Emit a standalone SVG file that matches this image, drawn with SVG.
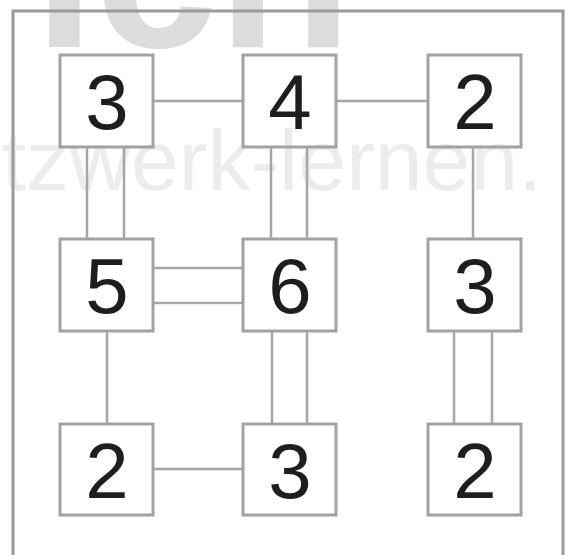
<svg xmlns="http://www.w3.org/2000/svg" width="566" height="555" viewBox="0 0 566 555">
<style>
.wm{font-family:"Liberation Sans",Arial,sans-serif}
.frame{fill:none;stroke:#9a9a9a;stroke-width:3}
.box{fill:none;stroke:#a2a2a2;stroke-width:3}
.num{font-family:"Liberation Sans",Arial,sans-serif;font-size:78px;fill:#1e1e1e;text-anchor:middle}
#connectors line{stroke:#a6a6a6;stroke-width:2.5}
</style>
<rect width="566" height="555" fill="#ffffff"/>
<text class="wm" x="34" y="47" font-size="220" font-weight="bold" fill="#dcdcdc">ich</text>
<text class="wm" x="2" y="190" font-size="86" fill="#ececec">tzwerk-lernen.</text>
<rect class="frame" x="13" y="11" width="550" height="560"/>
<g id="connectors">
<line x1="153" y1="101" x2="243" y2="101"/>
<line x1="336" y1="101" x2="428" y2="101"/>
<line x1="87" y1="147" x2="87" y2="239"/>
<line x1="124" y1="147" x2="124" y2="239"/>
<line x1="271" y1="147" x2="271" y2="239"/>
<line x1="307" y1="147" x2="307" y2="239"/>
<line x1="473" y1="147" x2="473" y2="239"/>
<line x1="153" y1="268" x2="243" y2="268"/>
<line x1="153" y1="303" x2="243" y2="303"/>
<line x1="107" y1="331" x2="107" y2="424"/>
<line x1="272" y1="331" x2="272" y2="424"/>
<line x1="307" y1="331" x2="307" y2="424"/>
<line x1="454" y1="331" x2="454" y2="424"/>
<line x1="492" y1="331" x2="492" y2="424"/>
<line x1="153" y1="469" x2="243" y2="469"/>
</g>
<g id="n11"><rect class="box" x="60" y="55" width="93" height="92"/><text class="num" x="107" y="129">3</text></g>
<g id="n12"><rect class="box" x="243" y="55" width="93" height="92"/><text class="num" x="290" y="129">4</text></g>
<g id="n13"><rect class="box" x="428" y="55" width="93" height="92"/><text class="num" x="475" y="129">2</text></g>
<g id="n21"><rect class="box" x="60" y="239" width="93" height="92"/><text class="num" x="107" y="313">5</text></g>
<g id="n22"><rect class="box" x="243" y="239" width="93" height="92"/><text class="num" x="290" y="313">6</text></g>
<g id="n23"><rect class="box" x="428" y="239" width="93" height="92"/><text class="num" x="475" y="313">3</text></g>
<g id="n31"><rect class="box" x="60" y="424" width="93" height="91"/><text class="num" x="107" y="498">2</text></g>
<g id="n32"><rect class="box" x="243" y="424" width="93" height="91"/><text class="num" x="290" y="498">3</text></g>
<g id="n33"><rect class="box" x="428" y="424" width="93" height="91"/><text class="num" x="475" y="498">2</text></g>
</svg>
